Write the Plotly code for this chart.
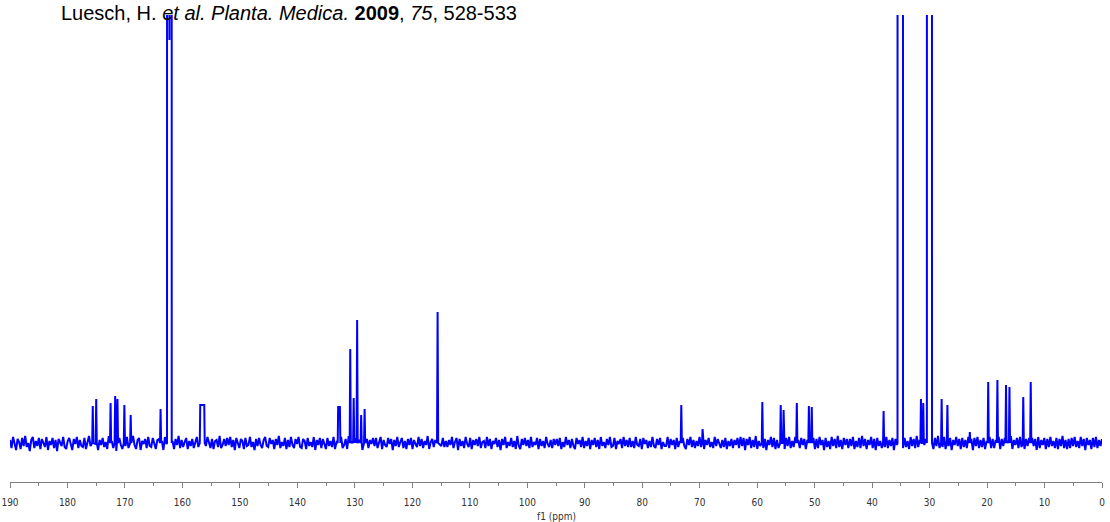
import numpy as np
import plotly.graph_objects as go

# ---- data (intensity in arbitrary units, baseline = 0) ----
noise = [
    3,-5,6,-2,-7,4,1,-6,5,-3,7,-4,0,-8,3,6,-5,2,-3,5,-6,4,-1,-4,
    6,-7,2,-2,5,-5,3,-8,4,1,-3,6,-4,-6,2,5,-2,-7,4,-1,6,-5,3,-3,
    -4,5,-6,2,7,-3,-5,4,-1,6,-7,3,-2,5,-4,1,-6,7,-3,2,-5,4,-8,3,
    5,-2,-6,4,-3,6,-5,1,-4,7,-2,-6,3,5,-7,2,-1,4,-5,6,-3,-4,5,-2,
    -6,3,4,-5,2,-7,6,-1,-3,5,-4,2,-6,4,-2,7,-5,3,-4,1,5,-6,2,-3,
    4,-5,1,6,-4,-2,5,-7,3,-3,6,-1,-5,4,-6,2,3,-4,7,-5,-2,4,-3,5,
    -2,6,-4,3,-7,5,-1,-5,4,2,-6,5,-3,-2,6,-4,1,-7,4,-3,5,-2,-5,3,
    6,-3,-4,5,-1,3,-6,4,-2,7,-5,1,-3,5,-6,3,-4,6,-2,-5,4,-1,6,-4,
    -5,4,2,-6,5,-3,1,-4,6,-7,3,-2,5,-5,4,-1,-6,5,-3,2,-4,6,-6,1,
    3,-4,6,-5,-2,4,-6,7,-3,1,-5,5,-2,-4,3,6,-7,2,-3,4,-5,3,-1,5,
    -3,5,-5,2,6,-6,3,-2,-4,5,-1,4,-7,3,-3,6,-4,1,5,-5,2,-6,4,-2,
    5,-6,3,-1,-4,6,-3,4,-5,2,-2,7,-6,1,4,-4,3,-5,6,-2,-3,5,-4,2,
    -4,3,-2,6,-5,1,5,-7,4,-3,2,-5,6,-1,-4,5,-6,3,-2,4,-3,6,-5,1,
    2,-5,6,-3,4,-6,2,-1,5,-4,3,-7,4,-2,6,-5,1,-3,5,-4,2,-6,7,-3,
    -6,4,-2,5,-3,3,-5,6,-4,1,-2,5,-6,4,-3,2,-5,6,-1,-4,3,-5,4,-2,
    4,-3,5,-6,1,-4,6,-2,3,-5,4,-3,-6,5,-1,3,-4,6,-5,2,-3,5,-6,3,
    -2,5,-4,3,-6,6,-3,1,-5,4,-2,6,-4,-3,5,-6,2,-1,4,-5,6,-3,3,-4,
    5,-4,2,-5,6,-2,-3,4,-6,5,-1,3,-5,2,-4,6,-3,-5,4,-2,5,-6,1,-3,
    -3,6,-5,4,-2,3,-6,5,-4,2,-1,5,-3,-6,4,-2,6,-4,3,-5,2,-3,6,-4,
    4,-6,3,-2,5,-4,1,-5,6,-3,4,-2,-5,3,-4,5,-6,2,-3,4,-5,3,-2,5,
    -5,6,-3,5,-7,4,-2,6,-5,3,-4,7,-6,2,-3,5,-5,4,-7,3,-2,6,-4,5,
    -6,3,-5,7,-2,4,-6,5,-3,6,-5,2,-4,6,-7,3,-5,5,-2,4,-6,3,-4,6,
    -3,5,-6,4,-5,6,-2,3,-7,5,-4,2,-6,6,-3,4,-5,7,-4,3,-6,5,-2,4,
    -5,4,-3,6,-6,2,-4,5,-5,7,-3,4,-6,3,-2,6,-5,4,-7,5,-3,2,-5,6,
    -4,6,-5,3,-3,5,-7,4,-2,6,-6,3,-5,5,-4,2,-6,6,-3,4,-5,7,-4,3,
    -6,5,-2,4,-5,6,-4,3,-6,5,-3,7,-5,2,-4,6,-6,4,-3,5,-7,3,-2,6,
    -3,4,-6,5,-4,3,-5,6,-2,4,-7,5,-3,6,-5,3,-4,5,-6,2,-3,6,-5,4,
    -5,3,-4,6,-6,4,-3,5,-5,2,-4,7,-6,3,-2,5,-5,6,-4,3,-6,4,-3,5,
    -4,5,-3,4,-7,6,-5,3,-2,5,-6,4,-4,6,-3,2,-5,5,-6,4,-3,7,-5,3,
    -6,4,-5,5,-3,6,-4,2,-5,6,-3,4,-7,5,-2,3,-6,5,-4,6,-5,3,-3,4,
]
noise_ppm_from, noise_ppm_to = 190.0, 0.0

peak_ppm = [175.6, 175.0, 172.5, 171.7, 171.3, 170.1, 169.0, 163.8,
            130.8, 130.2, 129.6, 128.9, 128.3, 115.6,
            73.2, 69.5, 59.1, 55.9, 55.4, 53.1, 51.0, 50.5,
            38.0, 31.5, 31.1, 27.9, 26.9, 23.0,
            19.8, 18.2, 16.7, 16.1, 13.7, 12.4]
peak_height = [37, 44, 40, 47, 44, 38, 28, 34,
               94, 45, 123, 28, 34, 131,
               38, 14, 41, 38, 33, 40, 37, 36,
               32, 44, 40, 44, 38, 11,
               61, 63, 58, 56, 46, 61]

pair_from = [156.9, 132.9]
pair_to = [156.2, 132.6]
pair_height = [38, 36]

solvent_a_ppm = [162.68, 162.62, 162.30, 162.26, 162.22, 161.92, 161.86]
solvent_a_int = [0, 5000, 5000, 403, 5000, 5000, 0]
solvent_b_ppm = [35.58, 35.53, 34.73, 34.68]
solvent_b_int = [0, 5000, 5000, 0]
solvent_c_ppm = [30.47, 30.43, 29.62, 29.58]
solvent_c_int = [0, 5000, 5000, 0]

# ---- assemble the trace ----
features = []
for p, h in zip(peak_ppm, peak_height):
    features.append(([p + 0.1, p, p - 0.1], [0, h, 0]))
for f, t, h in zip(pair_from, pair_to, pair_height):
    features.append(([f + 0.08, f, t, t - 0.08], [0, h, h, 0]))
features.append((solvent_a_ppm, solvent_a_int))
features.append((solvent_b_ppm, solvent_b_int))
features.append((solvent_c_ppm, solvent_c_int))
features.sort(key=lambda f: -f[0][0])

grid = np.linspace(noise_ppm_from, noise_ppm_to, len(noise))
xs, ys = [], []
fi = 0
for g, n in zip(grid, noise):
    while fi < len(features) and features[fi][0][0] >= g:
        xs.extend(features[fi][0]); ys.extend(features[fi][1]); fi += 1
    if any(f[0][-1] - 0.05 <= g <= f[0][0] + 0.05 for f in features):
        continue
    xs.append(g); ys.append(n)
while fi < len(features):
    xs.extend(features[fi][0]); ys.extend(features[fi][1]); fi += 1

fig = go.Figure()
fig.add_trace(go.Scatter(x=xs, y=ys, mode="lines",
                         line=dict(color="#0000FF", width=2.0),
                         hoverinfo="skip", showlegend=False))

tickfont = dict(family="Liberation Sans Narrow, DejaVu Sans Condensed, Liberation Sans, sans-serif",
                size=10, color="#333333")
fig.update_layout(
    width=1110, height=522,
    margin=dict(l=10, r=8, t=15, b=40),
    plot_bgcolor="white", paper_bgcolor="white",
    showlegend=False,
    xaxis=dict(range=[190, 0], showline=True, linecolor="#808080", linewidth=1,
               ticks="outside", ticklen=5, tickcolor="#808080", tick0=0, dtick=10,
               minor=dict(ticks="outside", ticklen=3, dtick=5, tick0=0, tickcolor="#808080"),
               showgrid=False, zeroline=False, tickfont=tickfont,
               ticklabelstandoff=6, automargin=False, ticklabeloverflow="allow"),
    yaxis=dict(range=[-39, 428], visible=False, fixedrange=True, automargin=False),
    annotations=[
        dict(text="f1 (ppm)", x=95, xref="x", y=0, yref="paper",
             yanchor="top", yshift=-27, showarrow=False, font=tickfont),
        dict(text="Luesch, H. <i>et al. Planta. Medica.</i> <b>2009</b>, <i>75</i>, 528-533",
             x=(59 - 10) / 1092, xref="paper", xanchor="left", y=1, yref="paper",
             yanchor="top", yshift=15, showarrow=False,
             font=dict(family="Liberation Sans, Arial, sans-serif", size=20, color="#000000")),
    ],
)
fig.write_html("out.html", config={"displayModeBar": False},
               post_script="document.body.style.margin='0px';")
